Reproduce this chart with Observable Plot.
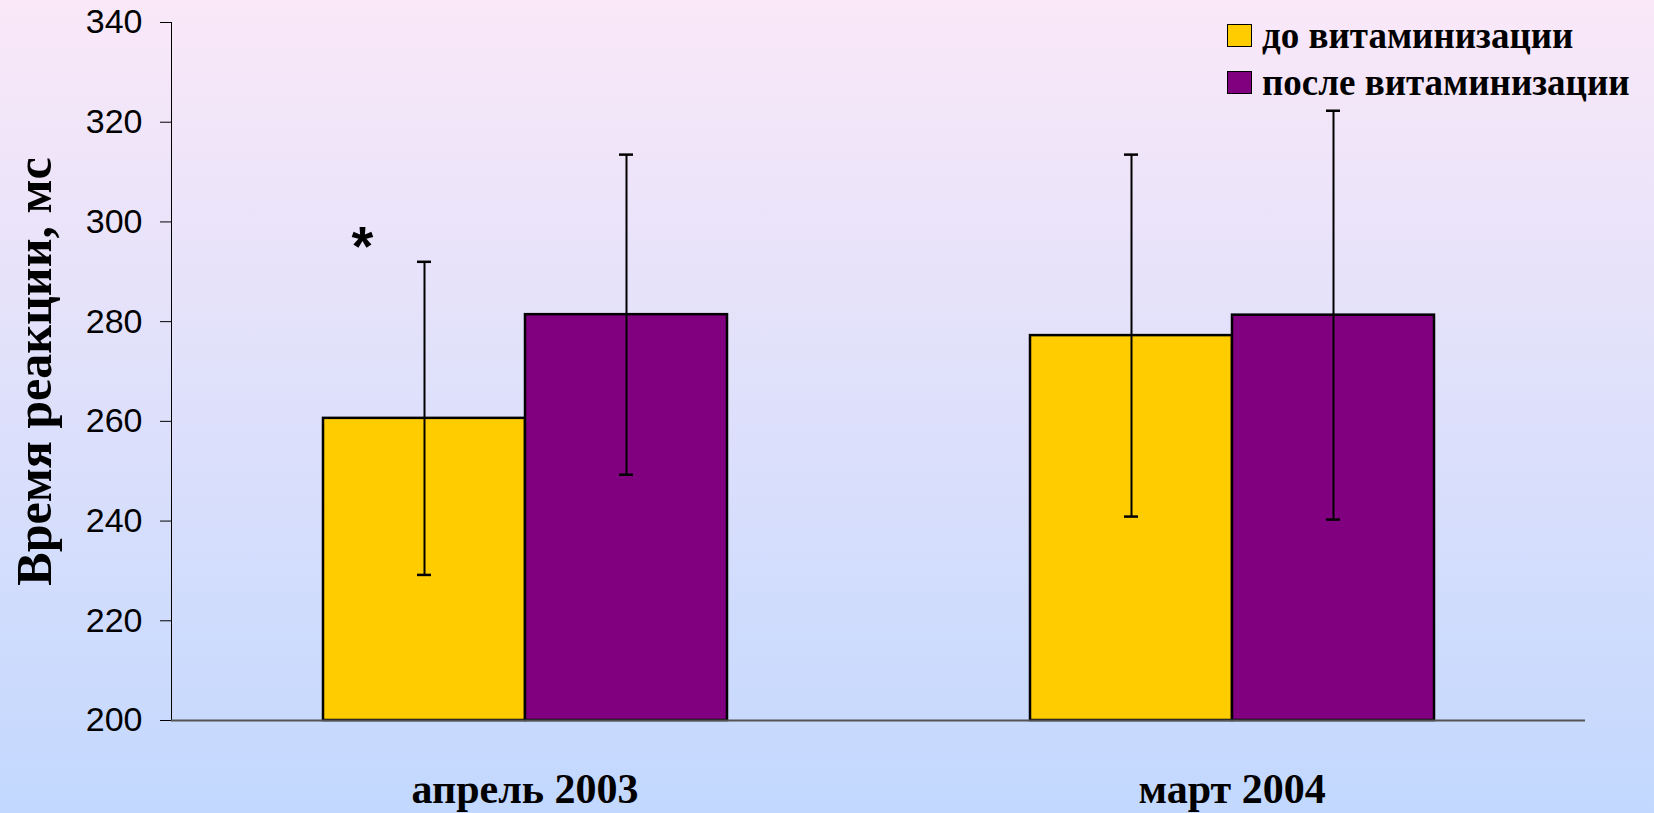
<!DOCTYPE html>
<html>
<head>
<meta charset="utf-8">
<script src="https://cdn.jsdelivr.net/npm/d3@7"></script>
<script src="https://cdn.jsdelivr.net/npm/@observablehq/plot@0.6"></script>
<style>
  html, body { margin: 0; padding: 0; }
  body { width: 1654px; height: 813px; overflow: hidden;
         background: linear-gradient(to bottom, #FAE8F8 0%, #C2D8FE 100%); }
  #wrap { position: relative; width: 1654px; height: 813px; }
  #legend { position: absolute; left: 1227px; top: 12px;
            font-family: "Liberation Serif", serif; font-weight: bold; font-size: 37px; color: #000; }
  .row { display: flex; align-items: center; height: 47px; }
  .sw { width: 23px; height: 21px; border: 1px solid #000; margin-right: 10px; box-sizing: content-box; }
</style>
</head>
<body>
<div id="wrap"></div>
<script>
const categories = ["апрель 2003", "март 2004"];
const series = ["до витаминизации", "после витаминизации"];
const colors = ["#FFCC00", "#800080"];
const before = [260.6, 277.2];
const after = [281.4, 281.3];
const sdBefore = [31.4, 36.3];
const sdAfter = [32.1, 41.0];
const yTicks = [200, 220, 240, 260, 280, 300, 320, 340];
const yLabel = "Время реакции, мс";
const marker = [{cat: "апрель 2003", series: "до витаминизации", y: 295, text: "*"}];

const rows = [];
categories.forEach((c, i) => {
  rows.push({cat: c, series: series[0], mean: before[i], sd: sdBefore[i]});
  rows.push({cat: c, series: series[1], mean: after[i], sd: sdAfter[i]});
});

const chart = Plot.plot({
  width: 1654,
  height: 813,
  marginLeft: 170,
  marginRight: 69,
  marginTop: 22,
  marginBottom: 93,
  style: {background: "transparent", fontFamily: "'Liberation Sans', Arial, sans-serif", fontSize: "34px", color: "#000", overflow: "visible"},
  fx: {domain: categories, padding: 0, label: null},
  x: {domain: series, paddingInner: 0, paddingOuter: 0.743, axis: null},
  y: {domain: [200, 340], ticks: yTicks, tickSize: 11, tickPadding: 18, line: true, label: null, tickFormat: d => String(d)},
  color: {domain: series, range: colors},
  marks: [
    Plot.barY(rows, {fx: "cat", x: "series", y1: 200, y2: "mean", fill: "series", stroke: "#000", strokeWidth: 2.5}),
    Plot.ruleX(rows, {fx: "cat", x: "series", y1: d => d.mean - d.sd, y2: d => d.mean + d.sd, stroke: "#000", strokeWidth: 2}),
    Plot.tickY(rows, {fx: "cat", x: "series", y: d => d.mean - d.sd, insetLeft: 94, insetRight: 94, stroke: "#000", strokeWidth: 2.5}),
    Plot.tickY(rows, {fx: "cat", x: "series", y: d => d.mean + d.sd, insetLeft: 94, insetRight: 94, stroke: "#000", strokeWidth: 2.5}),
    Plot.ruleY([200], {stroke: "#555", strokeWidth: 2}),
    Plot.axisFx({anchor: "bottom", tickSize: 0, tickPadding: 53, label: null,
      fontFamily: "'Liberation Serif', serif", fontWeight: "bold", fontSize: 42}),
    Plot.text(marker, {fx: "cat", x: "series", y: "y", text: "text", dx: -62,
      fontFamily: "'Liberation Sans', sans-serif", fontWeight: "bold", fontSize: 56}),
    Plot.text([{cat: categories[0], t: yLabel}], {fx: "cat", text: "t", frameAnchor: "left", textAnchor: "middle", rotate: -90, dx: -137,
      fontFamily: "'Liberation Serif', serif", fontWeight: "bold", fontSize: 50})
  ]
});

const wrap = document.getElementById("wrap");
wrap.appendChild(chart);

const legend = document.createElement("div");
legend.id = "legend";
series.forEach((s, i) => {
  const row = document.createElement("div");
  row.className = "row";
  const sw = document.createElement("span");
  sw.className = "sw";
  sw.style.background = colors[i];
  const t = document.createElement("span");
  t.textContent = s;
  row.appendChild(sw);
  row.appendChild(t);
  legend.appendChild(row);
});
wrap.appendChild(legend);
</script>
</body>
</html>
